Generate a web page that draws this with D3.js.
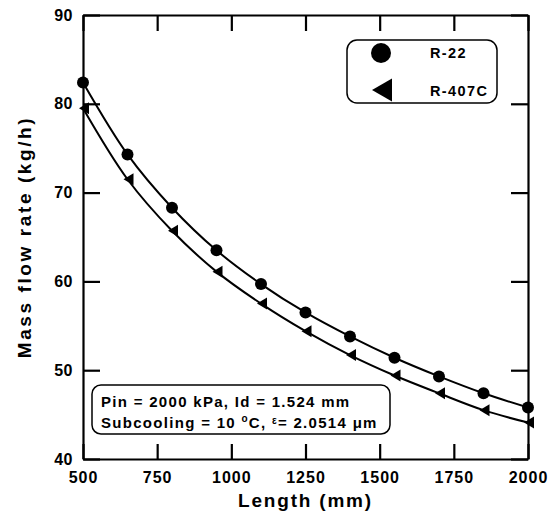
<!DOCTYPE html>
<html>
<head>
<meta charset="utf-8">
<script src="https://cdn.jsdelivr.net/npm/d3@7"></script>
<style>
  body { margin: 0; background: #fff; }
  svg { font-family: "Liberation Sans", Arial, sans-serif; font-weight: bold; }
  .axis path, .axis line { stroke: #000; stroke-width: 2.2; }
</style>
</head>
<body>
<div id="chart"></div>
<script>
// values
const lengths = [500, 650, 800, 950, 1100, 1250, 1400, 1550, 1700, 1850, 2000];
const r22     = [82.4, 74.3, 68.3, 63.5, 59.7, 56.5, 53.8, 51.4, 49.3, 47.4, 45.8];
const r407c   = [79.5, 71.5, 65.7, 61.1, 57.5, 54.4, 51.7, 49.4, 47.4, 45.5, 44.1];
const xTicks  = [500, 750, 1000, 1250, 1500, 1750, 2000];
const yTicks  = [40, 50, 60, 70, 80, 90];
const seriesNames = ["R-22", "R-407C"];

const width = 555, height = 518;
const svg = d3.select("#chart").append("svg")
    .attr("width", width)
    .attr("height", height);

const x = d3.scaleLinear().domain([500, 2000]).range([83, 528]);
const y = d3.scaleLinear().domain([40, 90]).range([459, 15]);

const styleLabels = (g, ls) => g.selectAll("text")
    .attr("font-size", 16).attr("letter-spacing", ls)
    .attr("font-family", "Liberation Sans, Arial, sans-serif")
    .attr("font-weight", "bold").attr("fill", "#000");

// axes, ticks pointing inward
svg.append("g").attr("class", "axis")
    .attr("transform", `translate(0,${y(40)})`)
    .call(d3.axisBottom(x).tickValues(xTicks).tickFormat(d3.format("d"))
        .tickSizeInner(-15).tickSizeOuter(0).tickPadding(13))
    .call(g => styleLabels(g, 1));

svg.append("g").attr("class", "axis")
    .attr("transform", `translate(0,${y(90)})`)
    .call(d3.axisTop(x).tickValues(xTicks).tickSizeInner(-16).tickSizeOuter(0).tickFormat(""));

svg.append("g").attr("class", "axis")
    .attr("transform", `translate(${x(500)},0)`)
    .call(d3.axisLeft(y).tickValues(yTicks).tickFormat(d3.format("d"))
        .tickSizeInner(-17).tickSizeOuter(0).tickPadding(10))
    .call(g => styleLabels(g, 0.5));

svg.append("g").attr("class", "axis")
    .attr("transform", `translate(${x(2000)},0)`)
    .call(d3.axisRight(y).tickValues(yTicks).tickSizeInner(-17).tickSizeOuter(0).tickFormat(""));

// axis titles
svg.append("text")
    .attr("x", (x(500) + x(2000)) / 2)
    .attr("y", 507)
    .attr("text-anchor", "middle")
    .attr("font-size", 19)
    .attr("letter-spacing", 1.8)
    .text("Length (mm)");

svg.append("text")
    .attr("transform", `translate(31,${(y(40) + y(90)) / 2}) rotate(-90)`)
    .attr("text-anchor", "middle")
    .attr("font-size", 19)
    .attr("letter-spacing", 2.6)
    .text("Mass flow rate (kg/h)");

// curves
const line = d3.line()
    .x(d => x(d[0]))
    .y(d => y(d[1]))
    .curve(d3.curveCatmullRom);

const s1 = lengths.map((l, i) => [l, r22[i]]);
const s2 = lengths.map((l, i) => [l, r407c[i]]);

[s1, s2].forEach(s => {
    svg.append("path")
        .datum(s)
        .attr("d", line)
        .attr("fill", "none")
        .attr("stroke", "#000")
        .attr("stroke-width", 2);
});

// markers
svg.selectAll(".dot")
    .data(s1)
    .enter().append("circle")
    .attr("class", "dot")
    .attr("cx", d => x(d[0]))
    .attr("cy", d => y(d[1]))
    .attr("r", 6)
    .attr("fill", "#000");

const tri = (cx, cy, w, h) => `M${cx - w / 2},${cy} L${cx + w / 2},${cy - h / 2} L${cx + w / 2},${cy + h / 2} Z`;

svg.selectAll(".tri")
    .data(s2)
    .enter().append("path")
    .attr("class", "tri")
    .attr("d", d => tri(x(d[0]) + 1, y(d[1]), 10, 12))
    .attr("fill", "#000");

// legend
const legend = svg.append("g");
legend.append("rect")
    .attr("x", 347).attr("y", 40)
    .attr("width", 150).attr("height", 63)
    .attr("rx", 10)
    .attr("fill", "#fff")
    .attr("stroke", "#000")
    .attr("stroke-width", 1.5);
legend.append("circle")
    .attr("cx", 381).attr("cy", 53).attr("r", 10).attr("fill", "#000");
legend.append("path")
    .attr("d", tri(382, 90, 20, 23)).attr("fill", "#000");
legend.selectAll(".ltext")
    .data(seriesNames)
    .enter().append("text")
    .attr("x", 430)
    .attr("y", (d, i) => 58 + i * 38)
    .attr("font-size", 14.5)
    .attr("letter-spacing", 1.4)
    .text(d => d);

// annotation box
const note = svg.append("g");
note.append("rect")
    .attr("x", 92).attr("y", 385)
    .attr("width", 298).attr("height", 49)
    .attr("rx", 9)
    .attr("fill", "#fff")
    .attr("stroke", "#000")
    .attr("stroke-width", 1.5);
note.append("text")
    .attr("x", 101).attr("y", 407)
    .attr("font-size", 15)
    .attr("letter-spacing", 1.3)
    .text("Pin = 2000 kPa, Id = 1.524 mm");
const t2 = note.append("text")
    .attr("x", 101).attr("y", 428)
    .attr("font-size", 15)
    .attr("letter-spacing", 1.3);
t2.append("tspan").text("Subcooling = 10 ");
t2.append("tspan").attr("font-size", 10).attr("dy", -6).text("o");
t2.append("tspan").attr("dy", 6).text("C, ");
t2.append("tspan").attr("font-size", 10).attr("dy", -4).text("ε");
t2.append("tspan").attr("dy", 4).text("= 2.0514 μm");
</script>
</body>
</html>
